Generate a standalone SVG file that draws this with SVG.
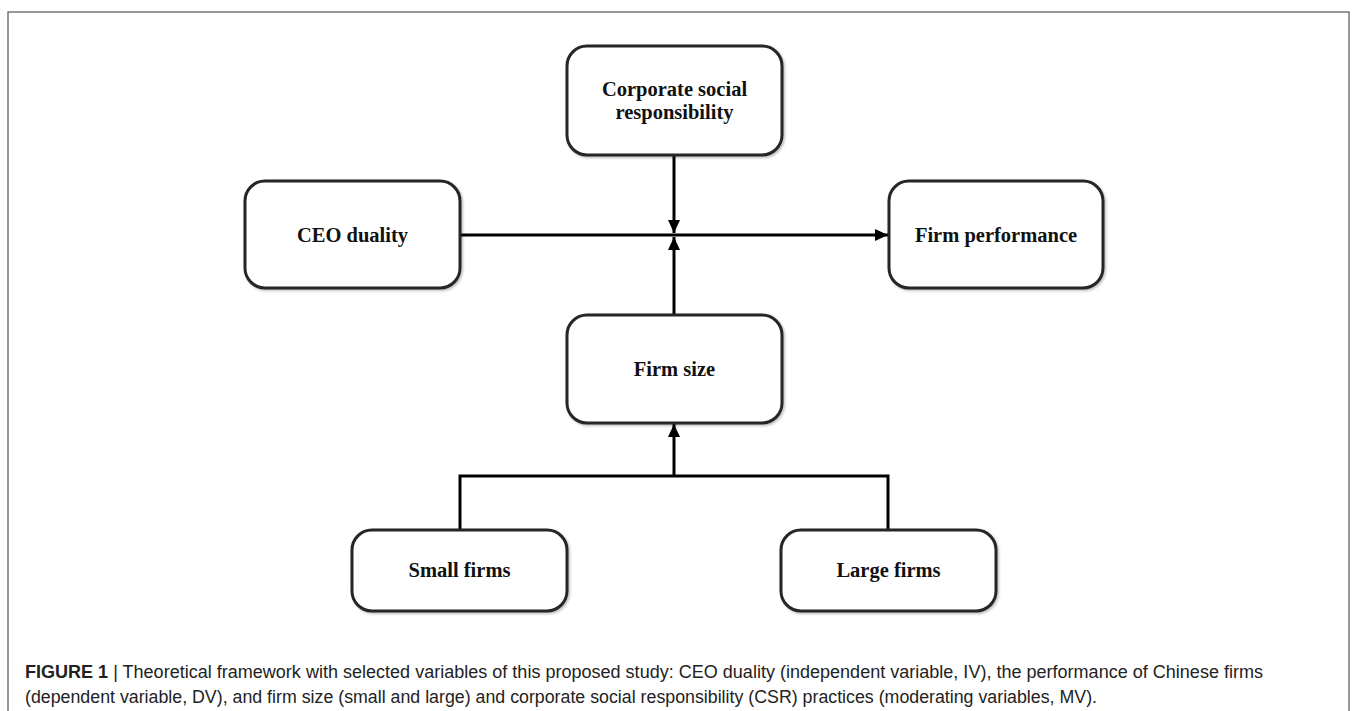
<svg xmlns="http://www.w3.org/2000/svg" width="1357" height="711" viewBox="0 0 1357 711">
<style>
.box{fill:#fff;stroke:#262626;stroke-width:3;filter:url(#sh)}
.lbl{font-family:"Liberation Serif","Times New Roman",serif;font-weight:bold;font-size:20.5px;fill:#111;text-anchor:middle}
.con{fill:none;stroke:#000;stroke-width:3}
.cap{font-family:"Liberation Sans",Arial,sans-serif;font-size:17.5px;fill:#222}
</style>
<defs>
<filter id="sh" x="-10%" y="-10%" width="125%" height="125%">
<feDropShadow dx="1.5" dy="1.5" stdDeviation="1.2" flood-color="#000" flood-opacity="0.25"/>
</filter>
<marker id="ah" markerUnits="userSpaceOnUse" markerWidth="14" markerHeight="14" viewBox="0 0 14 14" refX="13" refY="7" orient="auto">
<path d="M0,1 L13,7 L0,13 z" fill="#000"/>
</marker>
</defs>
<rect x="8" y="12" width="1341" height="720" fill="none" stroke="#555" stroke-width="1.2"/>
<g id="connectors">
<line class="con" x1="674" y1="155" x2="674" y2="233" marker-end="url(#ah)"/>
<line class="con" x1="460" y1="235" x2="888" y2="235" marker-end="url(#ah)"/>
<line class="con" x1="674" y1="315" x2="674" y2="237" marker-end="url(#ah)"/>
<polyline class="con" points="460,530 460,476 888,476 888,530"/>
<line class="con" x1="674" y1="476" x2="674" y2="424" marker-end="url(#ah)"/>
</g>
<g id="csr">
<rect class="box" x="567" y="46" width="215" height="109" rx="20"/>
<text class="lbl" x="674.5" y="96">Corporate social</text>
<text class="lbl" x="674.5" y="119">responsibility</text>
</g>
<g id="ceo">
<rect class="box" x="245" y="181" width="215" height="107" rx="20"/>
<text class="lbl" x="352.5" y="242">CEO duality</text>
</g>
<g id="perf">
<rect class="box" x="889" y="181" width="214" height="107" rx="20"/>
<text class="lbl" x="996" y="242">Firm performance</text>
</g>
<g id="size">
<rect class="box" x="567" y="315" width="215" height="108" rx="20"/>
<text class="lbl" x="674.5" y="376">Firm size</text>
</g>
<g id="small">
<rect class="box" x="352" y="530" width="215" height="81" rx="20"/>
<text class="lbl" x="459.5" y="577">Small firms</text>
</g>
<g id="large">
<rect class="box" x="781" y="530" width="215" height="81" rx="20"/>
<text class="lbl" x="888.5" y="577">Large firms</text>
</g>
<text class="cap" x="25" y="678" textLength="1238" lengthAdjust="spacingAndGlyphs"><tspan font-weight="bold">FIGURE 1</tspan> | Theoretical framework with selected variables of this proposed study: CEO duality (independent variable, IV), the performance of Chinese firms</text>
<text class="cap" x="25" y="703" textLength="1072" lengthAdjust="spacingAndGlyphs">(dependent variable, DV), and firm size (small and large) and corporate social responsibility (CSR) practices (moderating variables, MV).</text>
</svg>
